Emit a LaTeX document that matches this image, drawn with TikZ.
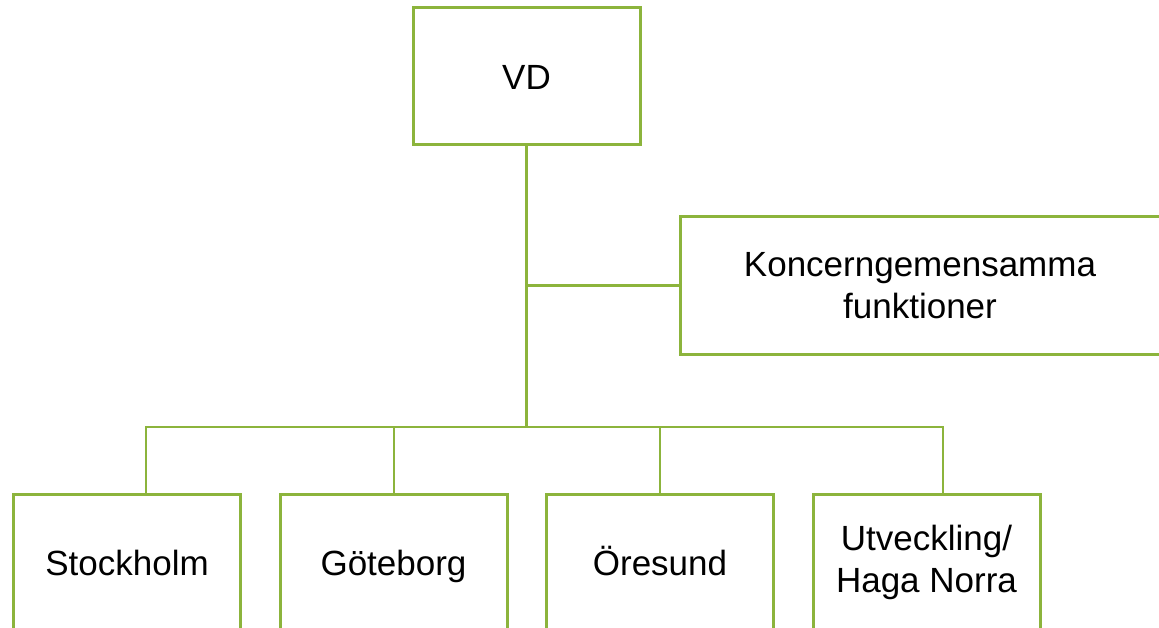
\documentclass[tikz,border=0pt]{standalone}
\usepackage{fontspec}
\setmainfont{Liberation Sans}
\usetikzlibrary{positioning}
\definecolor{orggreen}{RGB}{140,180,60}

\begin{document}
\begin{tikzpicture}[x=1pt,y=-1pt,
  unit/.style={rectangle,draw=orggreen,line width=3pt,minimum width=227pt,minimum height=137pt,align=center,font=\fontsize{35}{42}\selectfont,inner sep=0pt},
  oneline/.style={unit,text height=25.5pt,text depth=0pt},
  staff/.style={unit,minimum width=480pt},
  link/.style={draw=orggreen,line width=2.5pt}]
\useasboundingbox (0,0) rectangle (1159,628);
\node[oneline] (vd) at (526.5,76.5) {VD};
\node[staff] (kf) at (920,285.5) {Koncerngemensamma\\funktioner};
\node[oneline] (sthlm) at (127,562.5) {Stockholm};
\node[oneline] (gbg) at (393.5,562.5) {Göteborg};
\node[oneline] (ore) at (660,562.5) {Öresund};
\node[unit] (utv) at (926.5,562.5) {Utveckling/\\Haga Norra};
% bus junctions
\coordinate (hub) at (526.5,427);
\coordinate (d1) at (146,427);
\coordinate (d2) at (394,427);
\coordinate (d3) at (660,427);
\coordinate (d4) at (943,427);
\draw[link] (vd.south) -- (hub);
\draw[link] (vd.south |- kf.west) -- (kf.west);
\draw[link] (d1 |- sthlm.north) -- (d1) -- (d4) -- (d4 |- utv.north);
\draw[link] (d2) -- (d2 |- gbg.north);
\draw[link] (d3) -- (d3 |- ore.north);
\end{tikzpicture}
\end{document}
